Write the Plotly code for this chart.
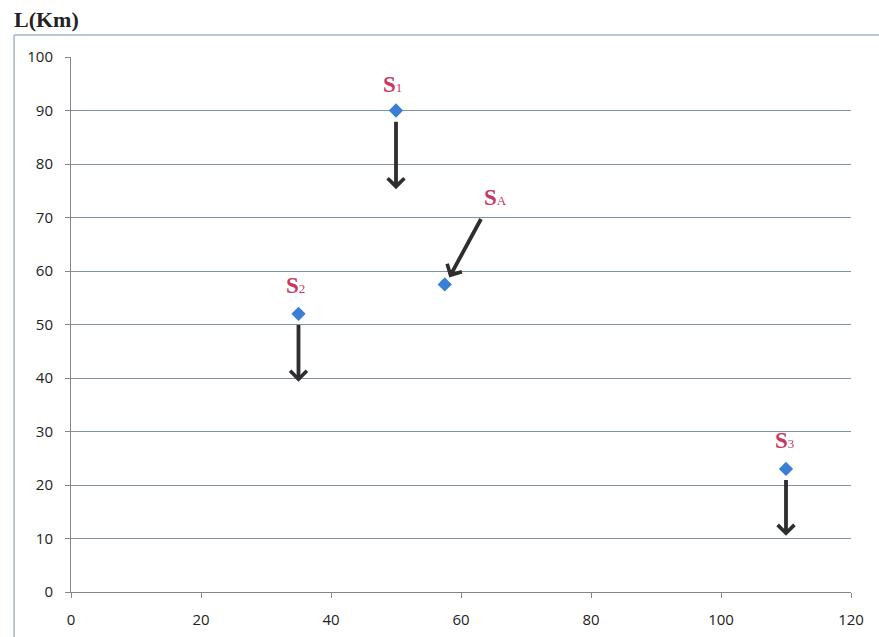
import plotly.graph_objects as go

# Data
point_names = ["S1", "S2", "SA", "S3"]
point_x = [50, 35, 57.5, 110]
point_y = [90, 52, 57.5, 23]

label_main = ["S", "S", "S", "S"]
label_sub = ["1", "2", "A", "3"]
label_x = [49.4, 34.6, 65.3, 109.8]
label_y = [94.8, 57.2, 73.8, 28.4]

# arrows: tail (ax, ay) -> head (hx, hy)
arrow_tail_x = [50, 35, 63.2, 110]
arrow_tail_y = [88.2, 50.2, 70.0, 21.2]
arrow_head_x = [50, 35, 58.2, 110]
arrow_head_y = [75.3, 39.3, 58.8, 10.5]

x_ticks = [0, 20, 40, 60, 80, 100, 120]
y_ticks = [0, 10, 20, 30, 40, 50, 60, 70, 80, 90, 100]

fig = go.Figure()
fig.add_trace(go.Scatter(
    x=point_x, y=point_y, mode="markers", name="points",
    marker=dict(symbol="diamond", size=11, color="#3a7fd5"),
    hovertext=point_names, showlegend=False,
))

annotations = []
for m, s, lx, ly in zip(label_main, label_sub, label_x, label_y):
    annotations.append(dict(
        x=lx, y=ly, xref="x", yref="y",
        text="<b>" + m + "</b><span style='font-size:13px'>" + s + "</span>",
        showarrow=False,
        font=dict(family="Liberation Serif, DejaVu Serif, serif", size=23, color="#c8385f"),
    ))
for tx, ty, hx, hy in zip(arrow_tail_x, arrow_tail_y, arrow_head_x, arrow_head_y):
    annotations.append(dict(
        x=hx, y=hy, ax=tx, ay=ty, xref="x", yref="y", axref="x", ayref="y",
        text="", showarrow=True, arrowhead=4, arrowsize=0.85, arrowwidth=3.8,
        arrowcolor="#2e2e2e",
    ))
annotations.append(dict(
    x=0.0, y=1.0, xref="paper", yref="paper", xanchor="left", yanchor="bottom",
    text="<b>L(Km)</b>", showarrow=False, xshift=-59, yshift=23,
    font=dict(family="Liberation Serif, DejaVu Serif, serif", size=22, color="#222222"),
))

fig.update_layout(
    width=879, height=637,
    margin=dict(l=71, r=28, t=57, b=45),
    paper_bgcolor="white", plot_bgcolor="white",
    annotations=annotations,
    shapes=[
        dict(type="line", xref="paper", yref="paper", x0=-0.073, x1=1.1, y0=1.041, y1=1.041,
             line=dict(color="#a8b4c8", width=1.5)),
        dict(type="line", xref="paper", yref="paper", x0=-0.073, x1=-0.073, y0=1.041, y1=-0.2,
             line=dict(color="#a8b4c8", width=1.5)),
    ],
    font=dict(family="Open Sans, DejaVu Sans, sans-serif", size=15, color="#222222"),
)
fig.update_xaxes(
    range=[0, 120], tickvals=x_ticks, showgrid=False, zeroline=False,
    showline=True, linecolor="#868686", linewidth=1, automargin=False,
    ticks="outside", ticklen=5, tickcolor="#868686", ticklabelstandoff=9,
    tickfont=dict(family="Open Sans, DejaVu Sans, sans-serif", size=15, color="#222222"),
)
fig.update_yaxes(
    range=[0, 100], tickvals=y_ticks, showgrid=True, gridcolor="#7f90aa", gridwidth=1,
    zeroline=False, showline=True, linecolor="#868686", linewidth=1, automargin=False,
    ticks="outside", ticklen=5, tickcolor="#868686", ticklabelstandoff=9,
    tickfont=dict(family="Open Sans, DejaVu Sans, sans-serif", size=15, color="#222222"),
)
fig.write_html("out.html", config={"displayModeBar": False},
               post_script="document.body.style.margin='0';")
